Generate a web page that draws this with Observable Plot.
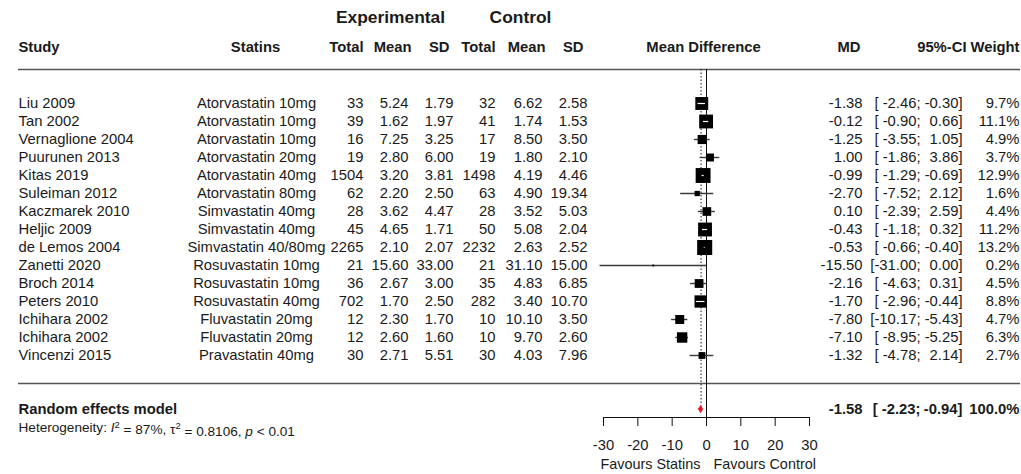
<!DOCTYPE html>
<html><head><meta charset="utf-8">
<script src="https://cdn.jsdelivr.net/npm/d3@7"></script>
<script src="https://cdn.jsdelivr.net/npm/@observablehq/plot@0.6"></script>
<style>
html,body{margin:0;padding:0;background:#fff;}
#chart svg{display:block;}
</style></head><body><div id="chart"></div>
<script>
// ---------- data ----------
const studies = ["Liu 2009","Tan 2002","Vernaglione 2004","Puurunen 2013","Kitas 2019","Suleiman 2012","Kaczmarek 2010","Heljic 2009","de Lemos 2004","Zanetti 2020","Broch 2014","Peters 2010","Ichihara 2002","Ichihara 2002","Vincenzi 2015"];
const statins = ["Atorvastatin 10mg","Atorvastatin 10mg","Atorvastatin 10mg","Atorvastatin 20mg","Atorvastatin 40mg","Atorvastatin 80mg","Simvastatin 40mg","Simvastatin 40mg","Simvastatin 40/80mg","Rosuvastatin 10mg","Rosuvastatin 10mg","Rosuvastatin 40mg","Fluvastatin 20mg","Fluvastatin 20mg","Pravastatin 40mg"];
const expTotal = [33,39,16,19,1504,62,28,45,2265,21,36,702,12,12,30];
const expMean = [5.24,1.62,7.25,2.80,3.20,2.20,3.62,4.65,2.10,15.60,2.67,1.70,2.30,2.60,2.71];
const expSD = [1.79,1.97,3.25,6.00,3.81,2.50,4.47,1.71,2.07,33.00,3.00,2.50,1.70,1.60,5.51];
const ctlTotal = [32,41,17,19,1498,63,28,50,2232,21,35,282,10,10,30];
const ctlMean = [6.62,1.74,8.50,1.80,4.19,4.90,3.52,5.08,2.63,31.10,4.83,3.40,10.10,9.70,4.03];
const ctlSD = [2.58,1.53,3.50,2.10,4.46,19.34,5.03,2.04,2.52,15.00,6.85,10.70,3.50,2.60,7.96];
const md = [-1.38,-0.12,-1.25,1.00,-0.99,-2.70,0.10,-0.43,-0.53,-15.50,-2.16,-1.70,-7.80,-7.10,-1.32];
const ciLow = [-2.46,-0.90,-3.55,-1.86,-1.29,-7.52,-2.39,-1.18,-0.66,-31.00,-4.63,-2.96,-10.17,-8.95,-4.78];
const ciHigh = [-0.30,0.66,1.05,3.86,-0.69,2.12,2.59,0.32,-0.40,0.00,0.31,-0.44,-5.43,-5.25,2.14];
const weight = [9.7,11.1,4.9,3.7,12.9,1.6,4.4,11.2,13.2,0.2,4.5,8.8,4.7,6.3,2.7];
const pooledMD = -1.58, pooledLow = -2.23, pooledHigh = -0.94, pooledWeight = 100.0;
const hetI2 = 87, hetTau2 = 0.8106, hetP = "< 0.01";
const xTicks = [-30,-20,-10,0,10,20,30];
const modelLabel = "Random effects model";
const labelLeft = "Favours Statins", labelRight = "Favours Control";

// ---------- layout ----------
const W = 1021, H = 474;
const FONT = "'Liberation Sans', Arial, Helvetica, sans-serif";
const FS = 14.8;
const INK = "#1a1a1a";
const frameLeft = 18;
const row0 = 103, rowStep = 18;
const rowAt = px => (px - row0) / rowStep;
const xPx = d3.scaleLinear([-30, 30], [603, 809]);
const rMax = 8.5;
const rPx = d3.scaleSqrt([0, d3.max(weight)], [0, rMax]);

const idx = d3.range(studies.length);
const f2 = v => v.toFixed(2);
const fmtW = v => v.toFixed(1) + "%";
const fmtLow = v => { const s = f2(v); return "[" + " ".repeat(Math.max(0, 6 - s.length)) + s + ";"; };

const ROW_GROUP = rowAt(16.7), ROW_HEAD = rowAt(47), ROW_LINE1 = rowAt(69);
const ROW_LINE2 = rowAt(383), ROW_SUM = 17, ROW_HET = 18, ROW_AXIS = rowAt(417), ROW_FAV = rowAt(464);

function colMark(data, textFn, xpos, anchor, extra = {}) {
  return Plot.text(data, {
    y: i => i, text: textFn, frameAnchor: "left", dx: xpos - frameLeft,
    textAnchor: anchor, fontSize: FS, fill: INK, ...extra
  });
}
function label(txt, row, xpos, anchor, extra = {}) {
  return Plot.text([txt], {y: () => row, text: d => d, frameAnchor: "left", dx: xpos - frameLeft,
    textAnchor: anchor, fontSize: FS, fill: INK, ...extra});
}
const B = {fontWeight: "bold"};

// CI segments that sit entirely inside their square are drawn white
const inside = idx.filter(i => (xPx(ciHigh[i]) - xPx(ciLow[i])) < rPx(weight[i]) * Math.sqrt(Math.PI) - 0.5);

const diamond = [
  {x: pooledLow, y1: ROW_SUM, y2: ROW_SUM},
  {x: pooledMD, y1: ROW_SUM - 0.21, y2: ROW_SUM + 0.21},
  {x: pooledHigh, y1: ROW_SUM, y2: ROW_SUM}
];

const chart = Plot.plot({
  width: W, height: H,
  marginLeft: frameLeft, marginRight: 1, marginTop: 0, marginBottom: H - 417,
  x: {domain: [-30, 30], range: [603, 809], label: null},
  y: {domain: [0, 14], range: [row0, row0 + 14 * rowStep], axis: null},
  r: {type: "sqrt", domain: [0, d3.max(weight)], range: [0, rMax]},
  style: {fontFamily: FONT, fontSize: FS + "px", color: INK, background: "#fff"},
  marks: [
    // horizontal separators
    Plot.ruleY([ROW_LINE1, ROW_LINE2], {stroke: "#555", strokeWidth: 1.3}),
    // reference lines
    Plot.ruleX([0], {y1: ROW_LINE1, y2: ROW_AXIS, stroke: "#111", strokeWidth: 1}),
    Plot.ruleX([pooledMD], {y1: ROW_LINE1, y2: ROW_SUM - 0.2, stroke: "#111", strokeWidth: 1, strokeDasharray: "1.5,2"}),
    // CIs
    Plot.ruleY(idx, {y: i => i, x1: i => ciLow[i], x2: i => ciHigh[i], stroke: "#3a3a3a", strokeWidth: 1.4}),
    // squares
    Plot.dot(idx, {x: i => md[i], y: i => i, r: i => weight[i], symbol: "square", fill: "#000", stroke: "none"}),
    Plot.ruleY(inside, {y: i => i, x1: i => ciLow[i], x2: i => ciHigh[i], stroke: "#fff", strokeWidth: 1.2}),
    // pooled diamond
    Plot.areaY(diamond, {x: "x", y1: "y1", y2: "y2", fill: "#e8141c", stroke: "#e8141c", strokeWidth: 0.6}),
    // x axis
    Plot.ruleY([ROW_AXIS], {x1: -30, x2: 30, stroke: "#111", strokeWidth: 1}),
    Plot.axisX(xTicks, {anchor: "bottom", label: null, tickSize: 9, tickPadding: 13, fontSize: FS, tickFormat: d => String(d), stroke: "#111", fill: INK}),
    label(labelLeft, ROW_FAV, xPx(0) - 6, "end", {fontSize: 14.4}),
    label(labelRight, ROW_FAV, xPx(0) + 7, "start", {fontSize: 14.4}),

    // headers
    label("Experimental", ROW_GROUP, 390, "middle", {...B, fontSize: 17.4}),
    label("Control", ROW_GROUP, 520, "middle", {...B, fontSize: 17.4}),
    label("Study", ROW_HEAD, 18, "start", B),
    label("Statins", ROW_HEAD, 255, "middle", B),
    label("Total", ROW_HEAD, 363, "end", B),
    label("Mean", ROW_HEAD, 411, "end", B),
    label("SD", ROW_HEAD, 449, "end", B),
    label("Total", ROW_HEAD, 495, "end", B),
    label("Mean", ROW_HEAD, 545, "end", B),
    label("SD", ROW_HEAD, 583, "end", B),
    label("Mean Difference", ROW_HEAD, 703, "middle", B),
    label("MD", ROW_HEAD, 860, "end", B),
    label("95%-CI", ROW_HEAD, 966, "end", B),
    label("Weight", ROW_HEAD, 1019, "end", B),

    // study columns
    colMark(idx, i => studies[i], 18, "start"),
    colMark(idx, i => statins[i], 256, "middle"),
    colMark(idx, i => String(expTotal[i]), 363, "end"),
    colMark(idx, i => f2(expMean[i]), 408, "end"),
    colMark(idx, i => f2(expSD[i]), 453, "end"),
    colMark(idx, i => String(ctlTotal[i]), 495, "end"),
    colMark(idx, i => f2(ctlMean[i]), 542, "end"),
    colMark(idx, i => f2(ctlSD[i]), 587, "end"),
    colMark(idx, i => f2(md[i]), 862, "end"),
    colMark(idx, i => fmtLow(ciLow[i]), 920, "end"),
    colMark(idx, i => f2(ciHigh[i]) + "]", 962, "end"),
    colMark(idx, i => fmtW(weight[i]), 1019, "end"),

    // pooled row
    label(modelLabel, ROW_SUM, 18, "start", B),
    label(f2(pooledMD), ROW_SUM, 862, "end", B),
    label(fmtLow(pooledLow), ROW_SUM, 920, "end", B),
    label(f2(pooledHigh) + "]", ROW_SUM, 962, "end", B),
    label(fmtW(pooledWeight), ROW_SUM, 1019, "end", B),
    label(`Heterogeneity: I2 = ${hetI2}%, t2 = ${hetTau2}, p ${hetP}`, ROW_HET, 18, "start", {fontSize: 13.6})
  ]
});
document.getElementById("chart").appendChild(chart);

// rich formatting for the heterogeneity line (italic I and p, superscripts, tau)
const NS = "http://www.w3.org/2000/svg";
for (const t of chart.querySelectorAll("text")) {
  if (!t.textContent.startsWith("Heterogeneity")) continue;
  t.textContent = "";
  const parts = [
    ["Heterogeneity: ", {}],
    ["I", {"font-style": "italic"}],
    ["2", {"font-size": "9.5px", dy: "-0.45em"}],
    [` = ${hetI2}%, \u03c4`, {dy: "0.45em"}],
    ["2", {"font-size": "9.5px", dy: "-0.45em"}],
    [` = ${hetTau2}, `, {dy: "0.45em"}],
    ["p", {"font-style": "italic"}],
    [` ${hetP}`, {}]
  ];
  for (const [s, attrs] of parts) {
    const sp = document.createElementNS(NS, "tspan");
    for (const [k, v] of Object.entries(attrs)) sp.setAttribute(k, v);
    sp.textContent = s;
    t.appendChild(sp);
  }
}
</script></body></html>
